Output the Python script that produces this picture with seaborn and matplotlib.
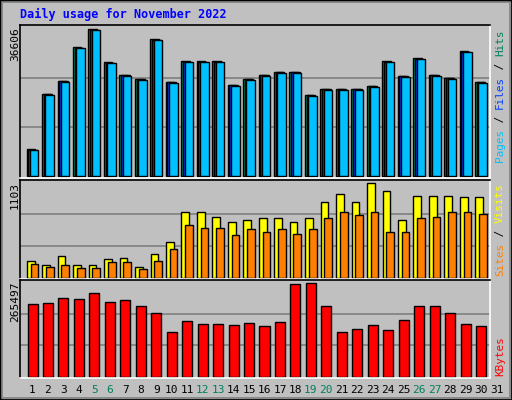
import numpy as np
import pandas as pd
import matplotlib
matplotlib.use("Agg")
import matplotlib.pyplot as plt
import seaborn as sns
from matplotlib.patches import Rectangle

days = list(range(1, 31))
hits = [6680, 20530, 23740, 32150, 36606, 28440, 25230, 24240, 34130, 23500, 28690, 28690, 28690, 22750, 24240,
        25230, 25970, 25970, 20280, 21770, 21770, 21770, 22510, 28690, 24980, 29430, 25230, 24490, 31160, 23500]
files = [6550, 20400, 23610, 32020, 36480, 28310, 25100, 24110, 34000, 23370, 28560, 28560, 28560, 22620, 24110,
         25100, 25840, 25840, 20150, 21640, 21640, 21640, 22380, 28560, 24850, 29300, 25100, 24360, 31030, 23370]
pages = [6430, 20280, 23490, 31900, 36350, 28190, 24980, 23990, 33880, 23250, 28440, 28440, 28440, 22500, 23990,
         24980, 25720, 25720, 20030, 21520, 21520, 21520, 22260, 28440, 24730, 29180, 24980, 24240, 30910, 23250]
visits = [192, 144, 252, 144, 144, 216, 228, 120, 276, 420, 768, 768, 708, 648, 672,
          696, 696, 648, 696, 876, 972, 876, 1103, 1008, 672, 948, 948, 948, 936, 936]
sites = [156, 120, 144, 108, 108, 180, 180, 96, 192, 336, 612, 576, 576, 492, 564,
         528, 564, 504, 564, 696, 768, 732, 768, 528, 528, 696, 708, 768, 768, 744]
kbytes = [204900, 207800, 222200, 219300, 236700, 210700, 216500, 199100, 178900, 127000, 158700, 150100, 150100,
          147200, 153000, 144300, 155800, 262600, 265497, 199100, 127000, 135600, 147200, 132800, 161600,
          199100, 199100, 178900, 150100, 144300]
weekend = [5, 6, 12, 13, 19, 20, 26, 27]

sns.set_theme(style="white")
plt.rcParams['font.family'] = ['DejaVu Sans Mono']
BG = "#c0c0c0"
fig = plt.figure(figsize=(5.12, 4.0), dpi=100, facecolor=BG)
fig.patches.append(Rectangle((0, 0), 1, 1, transform=fig.transFigure, fill=False,
                             edgecolor="black", lw=2))
fig.patches.append(Rectangle((0.004, 0.004), 0.992, 0.992, transform=fig.transFigure, fill=False,
                             edgecolor="#808080", lw=1.2))

L, R = 20 / 512, 490 / 512
X0, X1 = 0.19, 30.58
def mkax(top, bot):
    return fig.add_axes([L, 1 - bot / 400, R - L, (bot - top) / 400])

ax1 = mkax(25, 178); ax2 = mkax(180, 279); ax3 = mkax(280, 378)

def draw(ax, series, vmax):
    for vals, col, off, w in series:
        df = pd.DataFrame({"x": np.array(days) + off, "y": vals})
        sns.barplot(data=df, x="x", y="y", native_scale=True, color=col, width=w,
                    saturation=1, edgecolor="black", linewidth=1, ax=ax)
    ax.set_facecolor(BG)
    ax.set_xlim(X0, X1)
    ax.set_ylim(-vmax * 0.015, vmax * 1.03)
    for g in (vmax / 3, vmax * 2 / 3):
        ax.axhline(g, color="#808080", lw=1.2, zorder=0)
    ax.set_xticks([]); ax.set_yticks([])
    ax.set_xlabel(""); ax.set_ylabel("")
    for s in ax.spines.values():
        s.set_color("black"); s.set_linewidth(1.2)
    ax.spines["bottom"].set_color("white"); ax.spines["right"].set_color("white")
    fig.text(15 / 512, ax.get_position().y1 - 2 / 400, f"{vmax}", rotation=90, ha="center", va="top",
             fontsize=8, color="black")

draw(ax1, [(hits, "#00805c", -0.11, 0.55), (files, "#0040ff", 0.0, 0.55), (pages, "#00c0ff", 0.11, 0.55)], 36606)
draw(ax2, [(visits, "#ffff00", -0.12, 0.5), (sites, "#ff8000", 0.12, 0.5)], 1103)
draw(ax3, [(kbytes, "#ff0000", 0.0, 0.65)], 265497)

fig.text(20 / 512, 1 - 14 / 400, "Daily usage for November 2022", color="#0000ff", fontsize=8.5,
         fontweight="bold", va="center")

for d in range(1, 32):
    x = (d - X0) / (X1 - X0) * (R - L) + L
    fig.text(x, 1 - 390 / 400, str(d), ha="center", va="center", fontsize=8,
             color="#00805c" if d in weekend else "black")

def rlabel(parts, y0):
    y = y0
    for t, c in parts:
        fig.text(500 / 512, y, t, rotation=90, ha="center", va="bottom", color=c, fontsize=7.9)
        y += len(t) * 6.6 / 400

rlabel([("Pages", "#00c0ff"), (" / ", "black"), ("Files", "#0040ff"), (" / ", "black"), ("Hits", "#00805c")], 1 - 162 / 400)
rlabel([("Sites", "#ff8000"), (" / ", "black"), ("Visits", "#ffff00")], 1 - 276 / 400)
rlabel([("KBytes", "#ff0000")], 1 - 376 / 400)

fig.savefig("out.png", dpi=100, facecolor=BG)
